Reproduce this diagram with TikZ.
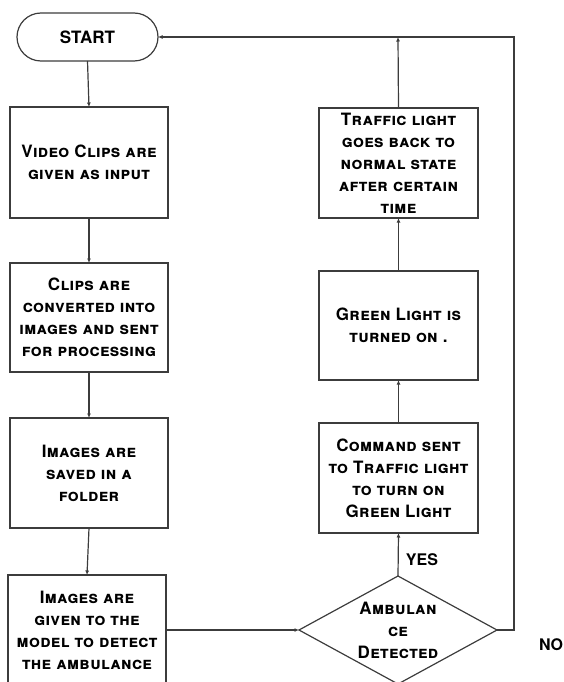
\documentclass[tikz,border=0pt]{standalone}
\usepackage{fontspec}
\setmainfont{TeX Gyre Heros}
\newfontfamily\boxfont[LetterSpace=2]{TeX Gyre Heros}
\usetikzlibrary{arrows.meta,shapes.geometric}
\definecolor{linec}{HTML}{3C3C3C}
\newcommand\dline[1]{\makebox[60pt][c]{#1}}
\begin{document}
\begin{tikzpicture}[x=1pt,y=-1pt,
  every node/.style={inner sep=0pt,outer sep=0pt},
  boxtxt/.style={font=\boxfont\fontsize{17}{22}\selectfont\bfseries\scshape,align=center},
  procbox/.style={draw=linec,line width=1.2pt,rectangle,minimum width=158pt,boxtxt},
  termbox/.style={draw=linec,line width=1.2pt,rectangle,rounded corners=24pt,minimum width=141pt,minimum height=48pt,font=\fontsize{17}{20}\selectfont\bfseries},
  decbox/.style={draw=linec,line width=1.2pt,diamond,shape aspect=1.83,minimum width=198pt,minimum height=108pt,text width=60pt,boxtxt},
  lbl/.style={font=\fontsize{16}{20}\selectfont\bfseries},
  conn/.style={draw=linec,line width=1.2pt,-{Latex[length=4.5pt,width=4pt]}}]
\useasboundingbox (0,0) rectangle (564,682);
\node[termbox] (start) at (87.5,37) {START};
\node[procbox,minimum height=111pt] (b1) at (89,162.5) {Video Clips are\\given as input};
\node[procbox,minimum height=109pt] (b2) at (89,317.5) {Clips are\\converted into\\images and sent\\for processing};
\node[procbox,minimum height=110pt] (b3) at (89,473) {Images are\\saved in a\\folder};
\node[procbox,minimum height=110pt] (b4) at (87,630) {Images are\\given to the\\model to detect\\the ambulance};
\node[decbox] (dec) at (398,630) {\dline{Ambulan}\\\dline{ce}\\\dline{Detected}};
\node[procbox,minimum width=159pt,minimum height=110pt] (cmd) at (398.5,478) {Command sent\\to Traffic light\\to turn on\\Green Light};
\node[procbox,minimum width=159pt,minimum height=109pt] (grn) at (398.5,325.5) {Green Light is\\turned on .};
\node[procbox,minimum width=159pt,minimum height=110pt] (trf) at (398.5,163) {Traffic light\\goes back to\\normal state\\after certain\\time};
\coordinate (top) at (398,37);
\coordinate (rt) at (514,630);
\node[lbl] (yes) at (422,560) {YES};
\node[lbl,anchor=west] (no) at (539,645) {NO};
\draw[conn] (start.south) -- (b1.north);
\draw[conn] (b1.south) -- (b2.north);
\draw[conn] (b2.south) -- (b3.north);
\draw[conn] (b3.south) -- (b4.north);
\draw[conn] (b4.east |- dec.west) -- (dec.west);
\draw[conn] (dec.north) -- (cmd.south);
\draw[conn] (cmd.north) -- (grn.south);
\draw[conn] (grn.north) -- (trf.south);
\draw[conn] (trf.north) -- (top);
\draw[conn] (dec.east) -- (rt) |- (start.east);
\end{tikzpicture}
\end{document}
